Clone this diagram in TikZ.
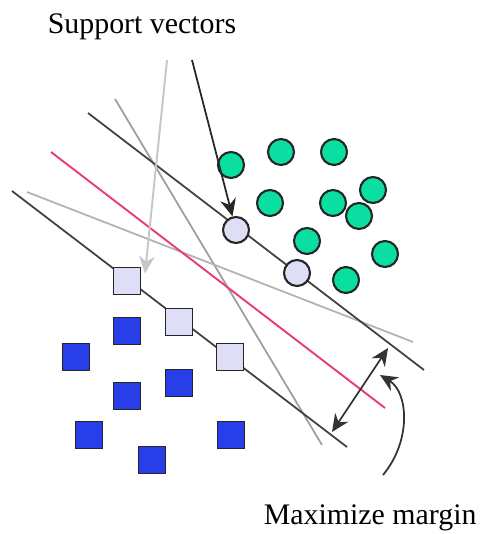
\documentclass[tikz,border=0pt]{standalone}
\usepackage{fontspec}
\setmainfont{Liberation Serif}
\usetikzlibrary{arrows.meta}

\definecolor{svmgreen}{RGB}{10,222,160}
\definecolor{svmblue}{RGB}{40,62,232}
\definecolor{svmpale}{RGB}{222,222,246}
\definecolor{svmpink}{RGB}{232,62,118}

\begin{document}
\begin{tikzpicture}[x=0.02cm,y=-0.02cm,>={Stealth[length=10pt,width=9pt]},
                    line width=1pt]
	\tikzstyle{circ}=[circle,draw=black!85,line width=1.2pt,fill=svmgreen,
	                  minimum size=0.52cm,inner sep=0pt]
	\tikzstyle{sqr}=[rectangle,draw=black!85,line width=1.1pt,fill=svmblue,
	                 minimum size=0.54cm,inner sep=0pt]
	\tikzstyle{sv}=[fill=svmpale]
	\tikzstyle{label}=[inner sep=0pt,font=\fontsize{17}{20}\selectfont]

	\useasboundingbox (0,0) rectangle (484,534);

	% other separating lines
	\draw[black!38] (115,99) -- (322,445);
	\draw[black!30] (27,192) -- (413,342);
	\draw[svmpink,line width=1.1pt] (51,152) -- (385,408);

	% margin lines
	\draw[black!75] (88,113) -- (424,370);
	\draw[black!75] (12,191) -- (347,447);

	% green class
	\node[circ] (C1) at (231,165) {};
	\node[circ] (C2) at (281,152) {};
	\node[circ] (C3) at (334,152) {};
	\node[circ] (C4) at (270,203) {};
	\node[circ] (C5) at (333,203) {};
	\node[circ] (C6) at (373,190) {};
	\node[circ] (C7) at (359,216) {};
	\node[circ] (C8) at (307,241) {};
	\node[circ] (C9) at (385,254) {};
	\node[circ] (C10) at (346,280) {};
	\node[circ,sv] (SC1) at (236,230) {};
	\node[circ,sv] (SC2) at (297,273) {};

	% blue class
	\node[sqr,sv] (SQ1) at (127,281) {};
	\node[sqr,sv] (SQ2) at (179,322) {};
	\node[sqr,sv] (SQ3) at (230,357) {};
	\node[sqr] (Q1) at (127,331) {};
	\node[sqr] (Q2) at (76,357) {};
	\node[sqr] (Q3) at (179,383) {};
	\node[sqr] (Q4) at (127,396) {};
	\node[sqr] (Q5) at (89,435) {};
	\node[sqr] (Q6) at (231,435) {};
	\node[sqr] (Q7) at (152,460) {};

	% labels
	\node[label,anchor=base west] (SV) at (47,33) {Support vectors};
	\node[label,anchor=base west] (MM) at (263,524) {Maximize margin};

	\coordinate (A) at (192,60);
	\coordinate (B) at (167,60);
	\coordinate (M1) at (388,348);
	\coordinate (M2) at (332,432);
	\coordinate (D) at (383,475);
	\coordinate (E) at (380,375);

	\draw[->,black!85] (A) -- (SC1);
	\draw[->,black!22,line width=1.1pt] (B) -- ([xshift=2pt,yshift=-4pt]SQ1.north east);
	\draw[<->,black!80] (M1) -- (M2);
	\draw[->,black!80] (D) .. controls (412,440) and (408,392) .. (E);
\end{tikzpicture}
\end{document}
